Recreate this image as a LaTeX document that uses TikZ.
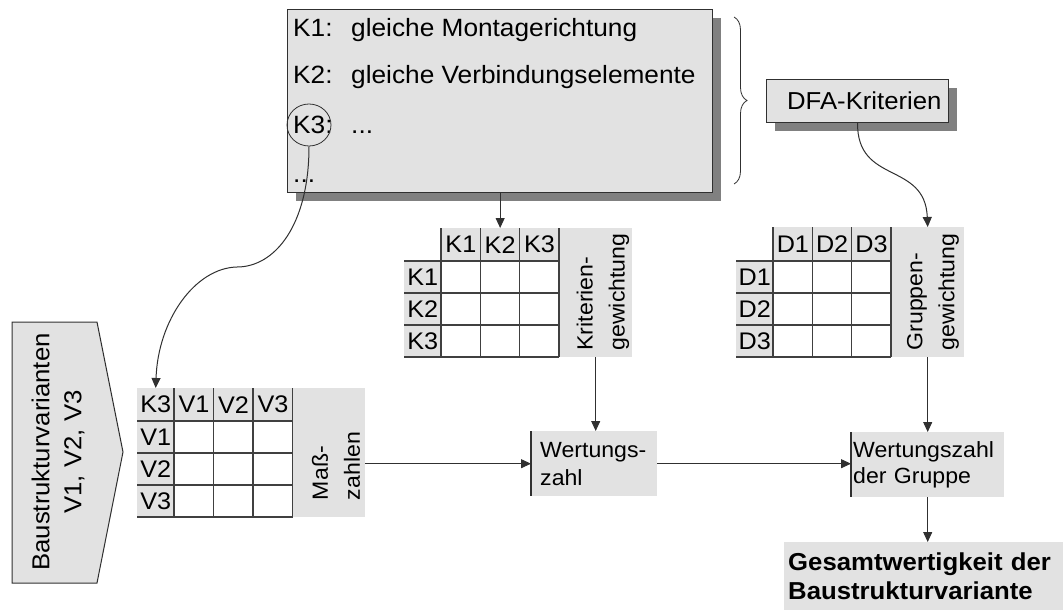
\documentclass[tikz,border=0pt]{standalone}
\usepackage{fontspec}
\setmainfont{Liberation Sans}[FakeStretch=1.05]
\usetikzlibrary{arrows.meta,shapes.geometric,shadows,decorations.pathreplacing}
\definecolor{boxgray}{HTML}{E2E2E2}
\definecolor{shadowgray}{HTML}{808080}
\definecolor{inkgray}{HTML}{303030}
\definecolor{gridgray}{HTML}{404040}
\tikzset{
  panel/.style={draw=inkgray, line width=1.1pt, fill=boxgray, inner sep=0pt,
    drop shadow={shadow xshift=8pt, shadow yshift=-8pt, fill=shadowgray, opacity=1}},
  shade box/.style={fill=boxgray, inner sep=0pt, anchor=north west},
  hcell/.style={fill=boxgray, inner sep=0pt, anchor=north west, font=\fontsize{24}{26}\selectfont},
  grid line/.style={draw=gridgray, line width=1.1pt},
  link/.style={draw=inkgray, line width=1pt},
  arrow/.style={link, -{Triangle[width=9pt,length=10pt]}},
  listtext/.style={anchor=base west, inner sep=0pt, font=\fontsize{25}{28}\selectfont},
  sidetext/.style={rotate=90, align=left, inner sep=0pt, font=\fontsize{22}{32}\selectfont},
}
\begin{document}
\begin{tikzpicture}[x=1pt, y=-1pt]
\useasboundingbox (0,0) rectangle (1063,610);

% ---- list of assembly criteria ----
\node[panel, minimum width=425pt, minimum height=183pt, anchor=north west] (kbox) at (287,9) {};
\node[listtext] (k1) at (293,37) {K1:};
\node[listtext] (k1t) at (351,37) {gleiche Montagerichtung};
\node[listtext] (k2) at (293,84) {K2:};
\node[listtext] (k2t) at (351,84) {gleiche Verbindungselemente};
\node[listtext] (k3) at (293,133) {K3:};
\node[listtext] (k3t) at (351,133) {...};
\node[listtext] (kmore) at (293,182) {...};
\node[ellipse, draw=inkgray, line width=0.8pt, minimum width=44pt, minimum height=42pt, inner sep=0pt] (k3ring) at (309,125) {};

% brace grouping the criteria
\draw[link, line width=0.8pt, decorate, decoration={brace, amplitude=13pt}] (734,17) -- (734,184);

% ---- DFA criteria ----
\node[panel, minimum width=182pt, minimum height=43pt, anchor=north west,
      inner xsep=7pt, text width=168pt, align=right, font=\fontsize{24.5}{28}\selectfont] (dfa) at (766,79) {DFA-Kriterien};

% ---- criteria weighting matrix ----
\node[shade box, minimum width=73pt, minimum height=129pt] (kg) at (559,228) {};
\node[sidetext] (kgl) at (603,292) {Kriterien-\\gewichtung};
\foreach \t [count=\i] in {K1,K2,K3}
  \node[hcell, minimum width=39.3pt, minimum height=33pt] (kh\i) at ({441+39.3*(\i-1)},228) {\t};
\foreach \t [count=\i] in {K1,K2,K3}
  \node[hcell, minimum width=37pt, minimum height=32pt] (kr\i) at (404,{261+32*(\i-1)}) {\t};
\foreach \x in {441,480.3,519.7,559} \draw[grid line] (\x,228) -- (\x,357);
\foreach \y in {261,293,325,357} \draw[grid line] (404,\y) -- (559,\y);

% ---- group weighting matrix ----
\node[shade box, minimum width=73pt, minimum height=130pt] (gg) at (891,227) {};
\node[sidetext] (ggl) at (933,292) {Gruppen-\\gewichtung};
\foreach \t [count=\i] in {D1,D2,D3}
  \node[hcell, minimum width=39.3pt, minimum height=34pt] (dh\i) at ({773+39.3*(\i-1)},227) {\t};
\foreach \t [count=\i] in {D1,D2,D3}
  \node[hcell, minimum width=37pt, minimum height=32pt] (dr\i) at (736,{261+32*(\i-1)}) {\t};
\foreach \x in {773,812.3,851.7,891} \draw[grid line] (\x,227) -- (\x,357);
\foreach \y in {261,293,325,357} \draw[grid line] (736,\y) -- (891,\y);

% ---- structure variants ----
\draw[draw=inkgray, line width=1pt, fill=boxgray]
  (12,322) -- (97,322) -- (123,452) -- (97,583) -- (12,583) -- cycle;
\node[rotate=90, align=center, inner sep=0pt, font=\fontsize{24.5}{32}\selectfont] (bv) at (58,452)
  {Baustrukturvarianten\\V1, V2, V3};

% ---- measure matrix for K3 ----
\node[shade box, minimum width=72.5pt, minimum height=129pt] (mz) at (292.5,388) {};
\node[sidetext] (mzl) at (336,466) {Maß-\\zahlen};
\node[hcell, minimum width=37pt, minimum height=33pt] (vk3) at (137,388) {K3};
\foreach \t [count=\i] in {V1,V2,V3}
  \node[hcell, minimum width=39.5pt, minimum height=33pt] (vh\i) at ({174+39.5*(\i-1)},388) {\t};
\foreach \t [count=\i] in {V1,V2,V3}
  \node[hcell, minimum width=37pt, minimum height=32pt] (vr\i) at (137,{421+32*(\i-1)}) {\t};
\foreach \x in {174,213.5,253,292.5} \draw[grid line] (\x,388) -- (\x,517);
\foreach \y in {421,453,485,517} \draw[grid line] (137,\y) -- (292.5,\y);

% ---- scores ----
\node[shade box, minimum width=126pt, minimum height=65pt, text width=114pt, inner xsep=6pt,
      align=left, font=\fontsize{22}{28}\selectfont] (wz) at (531,431) {\hspace*{3pt}Wertungs-\\\hspace*{3pt}zahl};
\draw[link, line width=1.2pt] (wz.north west) -- (wz.south west);
\node[shade box, minimum width=153pt, minimum height=65pt, text width=149pt, inner xsep=2pt,
      align=left, font=\fontsize{22}{26}\selectfont] (wg) at (851,432) {Wertungszahl\\der Gruppe};
\draw[link, line width=1.2pt] (wg.north west) -- (wg.south west);
\node[shade box, minimum width=279pt, minimum height=68pt, text width=271pt, inner xsep=4pt,
      align=left, font=\bfseries\fontsize{24.5}{29}\selectfont] (ges) at (784,542)
  {Gesamtwertigkeit der\\Baustrukturvariante};

% ---- connectors ----
\coordinate (bend) at (237,267);
\draw[arrow] (k3ring.south) .. controls (309,225) and (275,267) .. (bend)
  .. controls (195,268) and (158,320) .. (vk3.north);
\draw[arrow] (kbox.south -| kh2.north) -- (kh2.north);
\draw[arrow] (dfa.south) .. controls (857,185) and (925,161) .. (gg.north);
\draw[arrow] (kg.south) -- (kg.south |- wz.north);
\draw[arrow] (gg.south) -- (gg.south |- wg.north);
\draw[arrow] (mz.east |- wz.west) -- (wz.west);
\draw[arrow] (wz.east) -- (wz.east -| wg.west);
\draw[arrow] (wg.south) -- (wg.south |- ges.north);
\end{tikzpicture}
\end{document}
